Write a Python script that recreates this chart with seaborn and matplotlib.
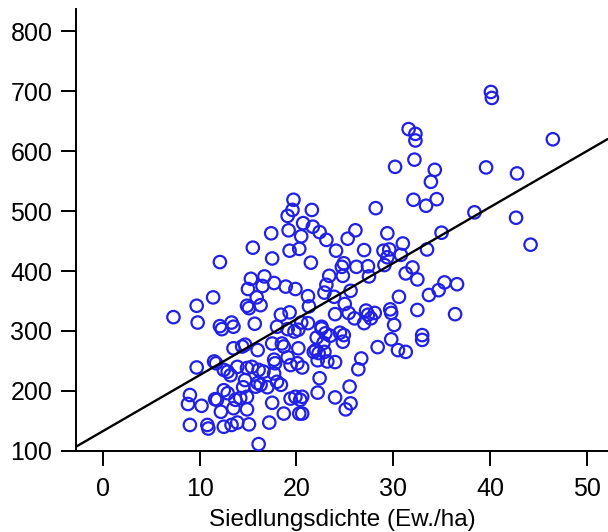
import numpy as np
import pandas as pd
import matplotlib
matplotlib.use("Agg")
import matplotlib.pyplot as plt
import seaborn as sns

# Siedlungsdichte (x) gegen Wert (y)
dichte = [40.1, 40.2, 31.6, 32.3, 32.3, 46.5, 32.2, 30.2, 34.3, 39.6, 42.8, 33.9, 32.1, 33.4, 34.5,
          28.2, 38.4, 42.7, 26.1, 25.3, 29.4, 31.0, 35.0, 44.2, 27.0, 29.0, 29.6, 29.4, 30.8, 33.5,
          24.9, 24.7, 26.2, 27.4, 29.1, 32.0, 31.3, 32.5, 24.8, 27.5, 25.6, 30.6, 33.7, 34.7, 35.3,
          36.6, 25.0, 27.2, 28.1, 29.7, 29.8, 32.5, 36.4, 26.0, 27.0, 27.7, 30.1, 21.2, 22.6, 23.0,
          22.1, 23.5, 24.5, 24.9, 24.8, 22.8, 21.8, 22.3, 23.2, 24.0, 28.4, 29.8, 30.5, 31.3, 33.0,
          33.0, 26.7, 26.4, 20.6, 22.4, 25.5, 22.2, 20.6, 24.0, 25.6, 25.1, 20.6,
          7.3, 9.7, 9.8, 11.4, 12.1, 12.3, 13.3, 13.5, 15.7, 14.9, 15.1, 16.3, 18.4, 19.3, 21.3,
          20.5, 19.1, 19.8, 20.2, 22.6, 9.7, 11.5, 11.7, 13.5, 14.4, 14.7, 16.0, 17.5, 18.5, 20.2,
          22.0, 22.9, 12.9, 13.2, 13.9, 14.9, 15.4, 16.1, 16.6, 17.7, 17.8, 19.1, 14.7, 14.5, 17.0,
          18.0, 18.4, 12.5, 12.9, 14.2, 14.9, 14.9, 13.5, 12.2, 11.8, 9.0, 8.8, 10.2, 9.0, 10.8,
          10.9, 12.5, 13.3, 13.9, 15.1, 17.2, 16.1, 18.7, 20.3, 19.9, 20.4, 19.4, 16.3,
          19.7, 19.6, 19.1, 21.6, 20.7, 21.7, 17.4, 19.2, 20.5, 22.4, 23.1, 15.5, 19.3, 20.3, 24.1,
          17.5, 12.1, 21.5, 15.3, 16.7, 23.4, 15.0, 16.5, 18.9, 19.9, 23.1, 22.9, 23.9, 21.2, 15.9,
          24.0, 12.5, 11.6, 13.7, 15.8, 16.0, 17.5, 25.4, 18.0, 17.7,
          18.7, 17.7, 19.4, 20.1, 22.2, 27.4]
wert = [699, 689, 637, 629, 618, 620, 586, 574, 569, 573, 563, 549, 519, 509, 520,
        505, 498, 489, 468, 454, 463, 446, 464, 444, 435, 434, 436, 423, 427, 436,
        413, 407, 407, 408, 410, 406, 396, 386, 392, 391, 367, 357, 360, 368, 381,
        378, 345, 334, 330, 336, 330, 335, 328, 321, 313, 321, 310, 313, 307, 296,
        289, 292, 297, 293, 282, 280, 265, 263, 249, 248, 273, 286, 268, 265, 293,
        285, 254, 236, 239, 221, 207, 197, 190, 189, 179, 169, 162,
        323, 342, 314, 356, 308, 303, 314, 307, 312, 342, 338, 343, 327, 331, 341,
        314, 303, 299, 302, 304, 239, 249, 246, 271, 274, 277, 268, 279, 279, 271,
        268, 265, 232, 226, 240, 238, 240, 235, 232, 229, 246, 256, 218, 206, 206,
        215, 210, 201, 196, 188, 190, 169, 171, 165, 185, 193, 178, 175, 143, 143,
        137, 140, 143, 147, 144, 147, 111, 162, 162, 190, 185, 187, 210,
        519, 502, 492, 502, 480, 474, 463, 468, 458, 465, 452, 439, 434, 437, 434,
        421, 415, 414, 387, 391, 392, 370, 375, 374, 370, 377, 364, 357, 358, 356,
        328, 235, 186, 185, 207, 213, 180, 330, 307, 380,
        274, 252, 243, 246, 251, 327]

# Regressionsgerade
achsenabschnitt = 132.6
steigung = 9.35

xticks = [0, 10, 20, 30, 40, 50]
yticks = [100, 200, 300, 400, 500, 600, 700, 800]

data = pd.DataFrame({"dichte": dichte, "wert": wert})

sns.set_style("ticks")
plt.rcParams["font.family"] = ["Liberation Sans", "DejaVu Sans"]

fig = plt.figure(figsize=(6.08, 5.32), dpi=100)
ax = fig.add_axes([0.125, 0.1528, 0.875, 0.8297])

sns.scatterplot(x="dichte", y="wert", data=data, ax=ax, marker="o", s=80,
                facecolor="none", edgecolor="#2020e6", linewidth=1.6, zorder=3)

ax.set_xlim(-2.77, 52.2)
ax.set_ylim(100, 837)
ax.axline((0, achsenabschnitt), slope=steigung, color="black", linewidth=1.7, zorder=4)

ax.set_xticks(xticks)
ax.set_yticks(yticks)
ax.tick_params(axis="both", direction="out", length=11, width=1.4, labelsize=18,
               colors="black", labelcolor="black")
ax.tick_params(axis="x", pad=8)
ax.tick_params(axis="y", pad=6)
for s in ["top", "right"]:
    ax.spines[s].set_visible(False)
for s in ["left", "bottom"]:
    ax.spines[s].set_linewidth(1.4)
    ax.spines[s].set_color("black")

ax.set_xlabel("Siedlungsdichte (Ew./ha)", fontsize=17.5, labelpad=6, color="black")
ax.set_ylabel("")

fig.savefig("out.png", dpi=100)
